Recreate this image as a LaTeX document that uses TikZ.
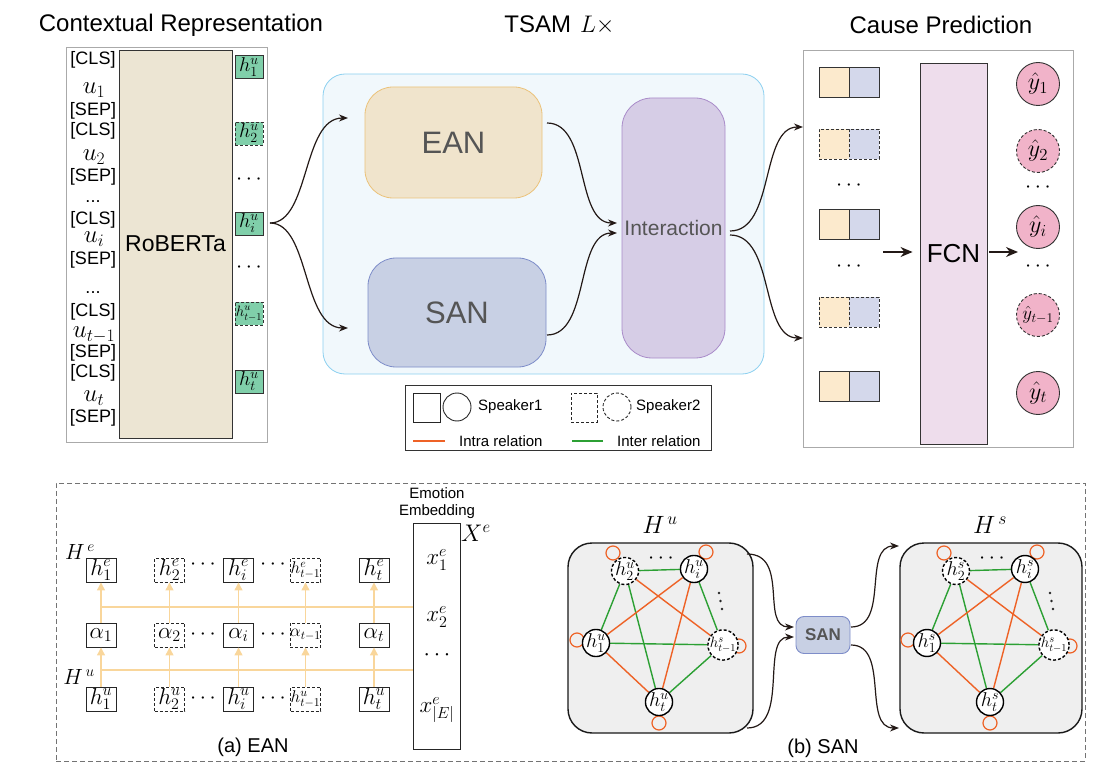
\RequirePackage{fix-cm}
\documentclass[tikz,border=0pt]{standalone}
\usepackage[no-math]{fontspec}
\setmainfont{Liberation Sans}
\usetikzlibrary{arrows.meta}
\definecolor{robfill}{RGB}{236,229,211}
\definecolor{hgreen}{RGB}{128,207,170}
\definecolor{tsamfill}{RGB}{241,248,252}
\definecolor{tsamline}{RGB}{140,208,240}
\definecolor{eanfill}{RGB}{240,228,204}
\definecolor{eanline}{RGB}{235,194,122}
\definecolor{sanfill}{RGB}{200,208,228}
\definecolor{sanline}{RGB}{126,141,201}
\definecolor{intfill}{RGB}{214,205,230}
\definecolor{intline}{RGB}{169,139,201}
\definecolor{labgray}{RGB}{85,85,85}
\definecolor{panelgray}{RGB}{170,170,170}
\definecolor{pairlfill}{RGB}{252,234,205}
\definecolor{pairrfill}{RGB}{212,216,235}
\definecolor{fcnfill}{RGB}{238,221,236}
\definecolor{predfill}{RGB}{241,179,201}
\definecolor{intracol}{RGB}{238,98,38}
\definecolor{intercol}{RGB}{44,160,52}
\definecolor{wline}{RGB}{249,214,155}
\definecolor{gboxfill}{RGB}{239,239,239}
\definecolor{arrowblk}{RGB}{35,25,22}
\pgfdeclarelayer{back}
\pgfdeclarelayer{mid}
\pgfsetlayers{back,mid,main}

\begin{document}
\begin{tikzpicture}
		[x=1pt,y=-1pt,
		ttl/.style={font=\fontsize{24}{28}\selectfont},
		tok/.style={font=\fontsize{18}{20}\selectfont, inner sep=0},
		utok/.style={font=\fontsize{25}{27}\selectfont, inner sep=0},
		dots/.style={font=\fontsize{22}{24}\selectfont, inner sep=0},
		hbox/.style={draw=black!80, fill=hgreen, line width=0.8pt, minimum width=28pt, minimum height=23pt, inner sep=0, font=\fontsize{20}{22}\selectfont},
		sp2/.style={dash pattern=on 3pt off 2pt},
		hsm/.style={sp2, font=\fontsize{15}{16}\selectfont},
		esm/.style={sp2, font=\fontsize{17}{18}\selectfont},
		psm/.style={sp2, font=\fontsize{19}{20}\selectfont},
		flow/.style={draw=arrowblk, line width=1.2pt, -{Stealth[length=9pt,width=7pt]}},
		bigflow/.style={draw=arrowblk, line width=1.4pt, -{Stealth[length=12pt,width=10pt]}},
		module/.style={rounded corners=28pt, line width=0.8pt, text=labgray, font=\fontsize{31}{34}\selectfont},
		half/.style={draw=black!80, line width=0.9pt, minimum size=30pt, inner sep=0},
		pred/.style={circle, draw=black!80, fill=predfill, line width=0.9pt, minimum size=43pt, inner sep=0, font=\fontsize{24}{26}\selectfont},
		lgd/.style={font=\fontsize{15}{17}\selectfont, anchor=west, inner sep=0},
		ebox/.style={draw=black!85, line width=0.9pt, minimum width=30pt, minimum height=24pt, inner sep=0, font=\fontsize{23}{25}\selectfont},
		wgt/.style={draw=wline, line width=1.2pt, -{Triangle[length=8pt,width=8pt]}},
		gbox/.style={draw=black!90, fill=gboxfill, line width=1.4pt, rounded corners=24pt, minimum height=190pt},
		gn/.style={circle, draw=black, fill=white, line width=1.4pt, minimum size=27pt, inner sep=0, font=\fontsize{20}{22}\selectfont},
		intraln/.style={draw=intracol, line width=1.4pt},
		interln/.style={draw=intercol, line width=1.4pt}]
		\useasboundingbox (0,0) rectangle (1104,778);
		% contextual representation
		\node[ttl] (tctx) at (181,25) {Contextual Representation};
		\node[draw=panelgray, line width=0.8pt, minimum width=201pt, minimum height=395pt] (ctx) at (166.5,244.5) {};
		\node[draw=black!80, fill=robfill, line width=0.8pt, minimum width=113pt, minimum height=388pt, font=\fontsize{23}{26}\selectfont] (rob) at (175.5,244) {RoBERTa};
		\foreach \y/\t [count=\k] in {60/{[CLS]},111/{[SEP]},131/{[CLS]},177/{[SEP]},202/{...},220/{[CLS]},260/{[SEP]},293/{...},312/{[CLS]},353/{[SEP]},373/{[CLS]},418/{[SEP]}}
		\node[tok] (tok\k) at (93,\y) {\t};
		\foreach \y/\lab [count=\k] in {90/1,157/2,239/i,335/{t-1},398/t}
		\node[utok] (utk\k) at (94,\y) {$u_{\lab}$};
		\foreach \n/\y/\lab/\s in {1/67/1/solid,2/133.5/2/sp2,i/223.5/i/solid,tm/313.5/{t-1}/hsm,t/381.5/t/solid}
		\node[hbox,\s] (hu\n) at (249,\y) {$h_{\lab}^{u}$};
		\node[dots] (hdot1) at (249,180) {$\cdots$};
		\node[dots] (hdot2) at (249,268) {$\cdots$};
		% TSAM
		\node[ttl] (ttsam) at (559.5,25) {TSAM\hspace{9pt}$L\times$};
		\node[draw=tsamline, fill=tsamfill, line width=0.8pt, rounded corners=22pt, minimum width=441pt, minimum height=300pt] (tsam) at (543.5,224) {};
		\node[module, draw=eanline, fill=eanfill, minimum width=177pt, minimum height=111pt] (ean) at (453.5,142.5) {EAN};
		\node[module, draw=sanline, fill=sanfill, minimum width=178pt, minimum height=109pt] (san) at (457,312.5) {SAN};
		\node[module, draw=intline, fill=intfill, minimum width=103pt, minimum height=260pt, rounded corners=30pt, inner sep=0, font=\fontsize{21}{24}\selectfont] (inter) at (673.5,228) {Interaction};
		\coordinate (hiout) at (270,223);
		\coordinate (eanin) at (348,118);
		\coordinate (sanin) at (348,328);
		\coordinate (eanout) at (547,123);
		\coordinate (sanout) at (547,335);
		\coordinate (intin1) at (617,223);
		\coordinate (intin2) at (617,233);
		\coordinate (intout1) at (730,231);
		\coordinate (intout2) at (730,235);
		\coordinate (cpin1) at (803,127);
		\coordinate (cpin2) at (803,338);
		\draw[flow] (hiout) .. controls (310,223) and (302,118) .. (eanin);
		\draw[flow] (hiout) .. controls (310,223) and (302,328) .. (sanin);
		\draw[flow] (eanout) .. controls (590,123) and (575,223) .. (intin1);
		\draw[flow] (sanout) .. controls (590,335) and (575,233) .. (intin2);
		\draw[flow] (intout1) .. controls (775,231) and (760,127) .. (cpin1);
		\draw[flow] (intout2) .. controls (775,235) and (760,338) .. (cpin2);
		% cause prediction
		\node[ttl] (tcp) at (941,25) {Cause Prediction};
		\node[draw=panelgray, line width=0.8pt, minimum width=270pt, minimum height=397pt] (cp) at (938,248.5) {};
		\foreach \n/\y/\s in {1/82/solid,2/144.5/sp2,i/224/solid,tm/312/sp2,t/386.5/solid}
		{
			\node[half,\s,fill=pairlfill] (pl\n) at (834,\y) {};
			\node[half,\s,fill=pairrfill] (pr\n) at (864,\y) {};
		}
		\node[dots] (pdot1) at (849,186) {$\cdots$};
		\node[dots] (pdot2) at (849,267) {$\cdots$};
		\node[draw=black!80, fill=fcnfill, line width=0.9pt, minimum width=67pt, minimum height=381pt, font=\fontsize{26}{28}\selectfont] (fcn) at (953.5,253.5) {FCN};
		\coordinate (pairout) at (883,252);
		\coordinate (predin) at (1018,252);
		\draw[bigflow, shorten >=7pt] (pairout) -- (fcn.west |- pairout);
		\draw[bigflow, shorten <=2pt] (fcn.east |- predin) -- (predin);
		\foreach \n/\y/\lab/\s in {1/84/1/solid,2/151/2/sp2,i/227/i/solid,tm/315/{t-1}/psm,t/393/t/solid}
		\node[pred,\s] (y\n) at (1038,\y) {$\hat{y}_{\lab}$};
		\node[dots] (ydot1) at (1038,188) {$\cdots$};
		\node[dots] (ydot2) at (1038,267) {$\cdots$};
		% legend
		\node[draw=black!80, line width=0.8pt, minimum width=306pt, minimum height=65pt] (lgdbox) at (558,417.5) {};
		\node[draw=black!85, line width=0.9pt, minimum width=27pt, minimum height=29pt] (lsq1) at (426.5,407.5) {};
		\node[circle, draw=black!85, line width=0.9pt, minimum size=28pt] (lci1) at (457,407) {};
		\node[lgd] (lsp1) at (478,407) {Speaker1};
		\node[draw=black!85, line width=0.9pt, sp2, minimum width=26pt, minimum height=29pt] (lsq2) at (584,407.5) {};
		\node[circle, draw=black!85, line width=0.9pt, sp2, minimum size=28pt] (lci2) at (617,407) {};
		\node[lgd] (lsp2) at (636,407) {Speaker2};
		\node[lgd] (lintra) at (459,441) {Intra relation};
		\node[lgd] (linter) at (617,441) {Inter relation};
		\draw[intraln] ([xshift=-14pt]lintra.west) -- ++(-32,0);
		\draw[interln] ([xshift=-14pt]linter.west) -- ++(-31,0);
		% bottom panel
		\node[draw=black!55, line width=0.8pt, dash pattern=on 5pt off 3pt, minimum width=1029pt, minimum height=278pt] (botbox) at (570.5,622) {};
		% (a) EAN
		\node[draw=black!85, line width=0.9pt, minimum width=47pt, minimum height=226pt] (emb) at (436.5,636) {};
		\node[align=center, font=\fontsize{15}{17}\selectfont, inner sep=0] (embt) at (437,503) {Emotion\\Embedding};
		\node[anchor=west, font=\fontsize{24}{26}\selectfont, inner sep=0] (embx) at (461,533) {$X^e$};
		\foreach \y/\t [count=\k] in {560/{x_1^e},617/{x_2^e},655/{\cdots},710/{x_{|E|}^e}}
		\node[font=\fontsize{23}{25}\selectfont] (xe\k) at (437,\y) {$\t$};
		\coordinate (ja) at (101,607);
		\coordinate (jb) at (101,670);
		\draw[draw=wline, line width=1.2pt] (ja) -- (ja -| emb.west);
		\draw[draw=wline, line width=1.2pt] (jb) -- (jb -| emb.west);
		\foreach \n/\x/\lab/\s in {1/101/1/solid,2/169.5/2/sp2,i/238.5/i/solid,tm/305.5/{t-1}/esm,t/374/t/solid}
		{
			\node[ebox,\s] (he\n) at (\x,570) {$h_{\lab}^{e}$};
			\node[ebox,\s] (al\n) at (\x,635) {$\alpha_{\lab}$};
			\node[ebox,\s] (hb\n) at (\x,699) {$h_{\lab}^{u}$};
			\draw[wgt] (hb\n) -- (al\n);
			\draw[wgt] (al\n) -- (he\n);
		}
		\foreach \y [count=\k] in {565,635,699}
		{
			\node[dots] (eda\k) at (203,\y) {$\cdots$};
			\node[dots] (edb\k) at (273,\y) {$\cdots$};
		}
		\node[font=\fontsize{22}{24}\selectfont] (hle) at (80,552) {$H^{\,e}$};
		\node[font=\fontsize{22}{24}\selectfont] (hlu) at (79,677) {$H^{\,u}$};
		\node[font=\fontsize{20}{22}\selectfont] (capa) at (253,747) {(a) EAN};
		% (b) SAN
		\begin{pgfonlayer}{back}
			\node[gbox, minimum width=185pt] (gu) at (660.5,638) {};
			\node[gbox, minimum width=182pt] (gs) at (991,638) {};
		\end{pgfonlayer}
		\node[font=\fontsize{25}{27}\selectfont] (hgu) at (660,525) {$H^{\,u}$};
		\node[font=\fontsize{25}{27}\selectfont] (hgs) at (990,525) {$H^{\,s}$};
		\foreach \g/\dx in {u/0,s/331}
		{
			\node[gn] (\g-1) at (596+\dx,643) {$h_1^{\g}$};
			\node[gn,sp2] (\g-2) at (625+\dx,571) {$h_2^{\g}$};
			\node[gn] (\g-i) at (694+\dx,569) {$h_i^{\g}$};
			\node[gn,sp2,font=\fontsize{15}{15}\selectfont] (\g-tm) at (723+\dx,645) {$h_{t-1}^{s}$};
			\node[gn] (\g-t) at (659+\dx,702) {$h_t^{\g}$};
			\node[dots] (\g-dh) at (661+\dx,559) {$\cdots$};
			% slanted dots between h_i and h_{t-1}
			\foreach \ox/\oy in {719/593,720.5/601,722/609}
			\fill[black!85] (\ox+\dx,\oy) circle[radius=1.4pt];
			\begin{pgfonlayer}{mid}
				\draw[interln] (\g-2) -- (\g-i) (\g-2) -- (\g-1) (\g-2) -- (\g-t) (\g-i) -- (\g-tm) (\g-1) -- (\g-tm) (\g-tm) -- (\g-t);
				\draw[intraln] (\g-2) -- (\g-tm) (\g-i) -- (\g-1) (\g-i) -- (\g-t) (\g-1) -- (\g-t);
				\draw[intraln, line width=1.2pt] ([shift={(-12,-18)}]\g-2.center) circle[radius=7pt];
				\draw[intraln, line width=1.2pt] ([shift={(12,-17)}]\g-i.center) circle[radius=7pt];
				\draw[intraln, line width=1.2pt] ([shift={(-19,-3)}]\g-1.center) circle[radius=7pt];
				\draw[intraln, line width=1.2pt] ([shift={(16,1)}]\g-tm.center) circle[radius=7pt];
				\draw[intraln, line width=1.2pt] ([shift={(0,21)}]\g-t.center) circle[radius=7pt];
			\end{pgfonlayer}
		}
		\node[draw=sanline, fill=sanfill, rounded corners=8pt, line width=0.9pt, minimum width=54pt, minimum height=37pt, text=labgray, font=\bfseries\fontsize{17}{19}\selectfont] (sanm) at (823,635) {SAN};
		\coordinate (guo1) at (747,554);
		\coordinate (guo2) at (747,728);
		\coordinate (smi1) at (794,627);
		\coordinate (smi2) at (794,637);
		\coordinate (smo1) at (851,627);
		\coordinate (smo2) at (851,645);
		\coordinate (gsi1) at (899,546);
		\coordinate (gsi2) at (899,728);
		\draw[flow] (guo1) .. controls (790,554) and (760,627) .. (smi1);
		\draw[flow] (guo2) .. controls (790,728) and (760,637) .. (smi2);
		\draw[flow] (smo1) .. controls (890,627) and (862,546) .. (gsi1);
		\draw[flow] (smo2) .. controls (890,645) and (862,728) .. (gsi2);
		\node[font=\fontsize{20}{22}\selectfont] (capb) at (823,748) {(b) SAN};
	\end{tikzpicture}
\end{document}
